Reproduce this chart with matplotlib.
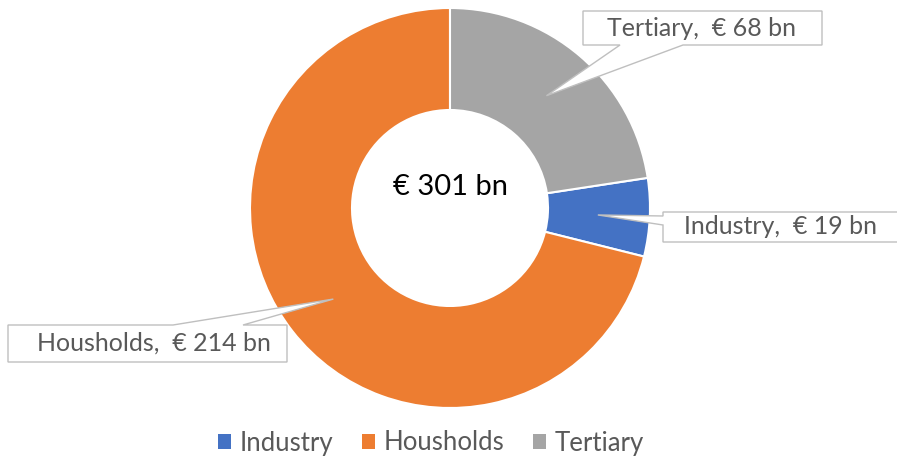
import numpy as np
import matplotlib.pyplot as plt
from matplotlib.patches import Polygon, Patch

plt.rcParams['font.family'] = ['Lato', 'DejaVu Sans']

categories = ['Industry', 'Housholds', 'Tertiary']
values = [19, 214, 68]
colors = ['#4472C4', '#ED7D31', '#A5A5A5']
total_label = '€ 301 bn'

# callout boxes (data units, pie radius = 1): x0, x1, y0, y1, pointer side, pointer base, text x
boxes = {
    'Industry': (1.065, 2.30, -0.17, -0.02, 'left', (-0.04, -0.085), 1.65),
    'Housholds': (-2.21, -0.815, -0.77, -0.585, 'top', (-1.385, -1.035), -1.48),
    'Tertiary': (0.665, 1.86, 0.815, 0.985, 'bottom', (0.85, 1.165), 1.255),
}

fig = plt.figure(figsize=(8.97, 4.59), dpi=100)
ax = fig.add_axes([0, 0, 1, 1])

start = 90 - 360 * values[2] / sum(values)
wedges, _ = ax.pie(values, colors=colors, startangle=start, counterclock=False,
                   radius=1, wedgeprops=dict(width=0.51, edgecolor='white', linewidth=1.5))

ax.text(0, 0.105, total_label, ha='center', va='center', fontsize=21, color='black')

for w, cat, val in zip(wedges, categories, values):
    mid = np.deg2rad((w.theta1 + w.theta2) / 2)
    tip = (0.74 * np.cos(mid), 0.74 * np.sin(mid))
    x0, x1, y0, y1, side, (b0, b1), tx = boxes[cat]
    if side == 'left':
        pts = [(x0, y1), (x1, y1), (x1, y0), (x0, y0), (x0, b1), tip, (x0, b0)]
    elif side == 'top':
        pts = [(x0, y1), (b0, y1), tip, (b1, y1), (x1, y1), (x1, y0), (x0, y0)]
    else:
        pts = [(x0, y1), (x1, y1), (x1, y0), (b1, y0), tip, (b0, y0), (x0, y0)]
    ax.add_patch(Polygon(pts, closed=True, facecolor='white', edgecolor='#BFBFBF',
                         linewidth=1.0, zorder=3))
    ax.text(tx, (y0 + y1) / 2, f'{cat},  € {val} bn', ha='center', va='center',
            fontsize=18, color='#595959', zorder=4)

handles = [Patch(facecolor=c, edgecolor='none') for c in colors]
ax.legend(handles, categories, loc='center', bbox_to_anchor=(-0.095, -1.175),
          bbox_transform=ax.transData, ncol=3, frameon=False, fontsize=18.5,
          handlelength=0.5, handleheight=0.5, handletextpad=0.35, columnspacing=1.1,
          labelcolor='#595959')

ax.set_xlim(-2.25, 2.235)
ax.set_ylim(-1.255, 1.04)
ax.set_aspect('equal')
ax.axis('off')

fig.savefig('out.png', dpi=100, facecolor='white')
